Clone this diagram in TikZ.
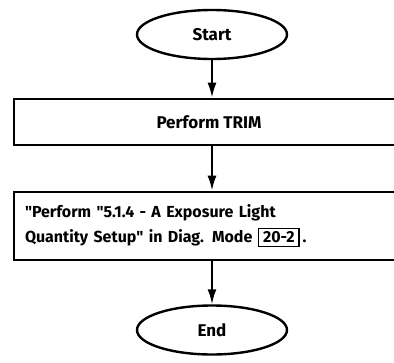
\documentclass[tikz,border=0pt]{standalone}
\usepackage{fontspec}
\setmainfont{Fira Sans}
\usetikzlibrary{arrows.meta,shapes.geometric}

\begin{document}
\begin{tikzpicture}[x=1pt,y=-1pt,>=Latex,
  term/.style={draw,ellipse,line width=2.4pt,minimum width=150pt,minimum height=49pt,font=\fontsize{17}{18}\selectfont\bfseries},
  proc/.style={draw,rectangle,line width=2.6pt,minimum width=390pt,font=\fontsize{16}{25}\selectfont\bfseries},
  flow/.style={line width=2pt,-{Latex[length=15pt,width=9pt]}}]
\useasboundingbox (0,0) rectangle (394,362);
\clip (0,0) rectangle (394,362);
\node[term] (start) at (212,34.5) {Start};
\node[proc,minimum height=46pt,font=\fontsize{17}{25}\selectfont\bfseries] (trim) at (209,122) {Perform TRIM};
\node[proc,minimum height=68pt,text width=368pt,align=left,inner xsep=11pt] (exposure) at (209,226)
  {\textquotedbl Perform \textquotedbl 5.1.4 - A Exposure Light\\Quantity Setup\textquotedbl{} in Diag. Mode {\setlength\fboxrule{1.6pt}\setlength\fboxsep{2.5pt}\fbox{\makebox[34pt]{20-2}}}\,.};
\node[term] (end) at (212,330) {End};
\draw[flow] (start.south) -- (start.south |- trim.north);
\draw[flow] (start.south |- trim.south) -- (start.south |- exposure.north);
\draw[flow] (start.south |- exposure.south) -- (end.north);
\end{tikzpicture}
\end{document}
